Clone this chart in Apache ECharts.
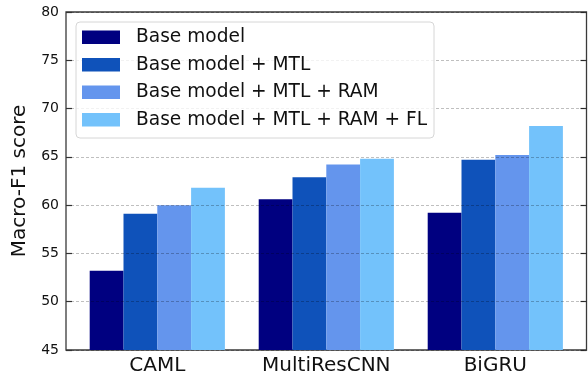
<!DOCTYPE html>
<html>
<head>
<meta charset="utf-8">
<script src="https://cdn.jsdelivr.net/npm/echarts@6/dist/echarts.min.js"></script>
<style>
  html, body { margin: 0; padding: 0; background: #fff; }
  #chart { width: 588px; height: 377px; }
</style>
</head>
<body>
<div id="chart"></div>
<script>
// Model families on the x axis
const categories = ['CAML', 'MultiResCNN', 'BiGRU'];

// Macro-F1 scores per configuration
const seriesNames = [
  'Base model',
  'Base model + MTL',
  'Base model + MTL + RAM',
  'Base model + MTL + RAM + FL'
];
const baseModel = [53.2, 60.6, 59.2];
const withMTL = [59.1, 62.9, 64.7];
const withRAM = [60.0, 64.2, 65.2];
const withFL = [61.8, 64.8, 68.2];

const yTicks = [45, 50, 55, 60, 65, 70, 75, 80];

const seriesValues = [baseModel, withMTL, withRAM, withFL];
const colors = ['#000080', '#0F52BA', '#6495ED', '#73C2FB'];

const FONT = 'DejaVu Sans';

const chart = echarts.init(document.getElementById('chart'), null, { renderer: 'canvas' });

const yRange = {
  type: 'value',
  min: yTicks[0],
  max: yTicks[yTicks.length - 1],
  interval: yTicks[1] - yTicks[0]
};
const tickStyle = { show: true, inside: true, length: 6, lineStyle: { color: '#333', width: 1.2 } };

chart.setOption({
  animation: false,
  textStyle: { fontFamily: FONT },
  grid: [
    // frame, y ticks and grid lines
    {
      left: 66, right: 1.5, top: 12, bottom: 27,
      show: true,
      borderColor: '#3a3a3a',
      borderWidth: 1.3,
      backgroundColor: 'transparent'
    },
    // bar area: the category bands sit inside the frame with small side margins
    { left: 72.8, right: 8.2, top: 12, bottom: 27 }
  ],
  legend: {
    data: seriesNames,
    orient: 'vertical',
    left: 76,
    top: 22,
    padding: [5, 7, 8, 6],
    itemWidth: 38,
    itemHeight: 13.5,
    itemGap: 7,
    icon: 'rect',
    selectedMode: false,
    backgroundColor: 'rgba(255,255,255,0.8)',
    borderColor: '#d6d6d6',
    borderWidth: 1,
    borderRadius: 4,
    z: 20,
    textStyle: {
      fontFamily: FONT,
      fontSize: 18.6,
      color: '#111',
      lineHeight: 20.5,
      padding: [0, 0, 0, 11]
    }
  },
  xAxis: [
    {
      gridIndex: 0,
      type: 'value',
      min: 0, max: 1,
      show: false
    },
    {
      gridIndex: 1,
      type: 'category',
      data: categories,
      axisLine: { show: false },
      axisTick: { show: false },
      splitLine: { show: false },
      axisLabel: { fontFamily: FONT, fontSize: 20, color: '#111', margin: 6 }
    }
  ],
  yAxis: [
    Object.assign({}, yRange, {
      gridIndex: 0,
      position: 'left',
      z: 10,
      axisLine: { show: false },
      axisTick: tickStyle,
      name: 'Macro-F1 score',
      nameLocation: 'middle',
      nameGap: 34,
      nameTextStyle: { fontFamily: FONT, fontSize: 20, color: '#111' },
      axisLabel: { fontFamily: FONT, fontSize: 14, color: '#111', margin: 7 },
      splitLine: {
        show: true,
        lineStyle: { color: 'rgba(0,0,0,0.25)', type: [3, 2], width: 1 }
      }
    }),
    Object.assign({}, yRange, {
      gridIndex: 0,
      position: 'right',
      axisLine: { show: false },
      axisTick: tickStyle,
      axisLabel: { show: false },
      splitLine: { show: false }
    }),
    Object.assign({}, yRange, {
      gridIndex: 1,
      show: false
    })
  ],
  series: seriesNames.map((name, i) => ({
    name: name,
    type: 'bar',
    xAxisIndex: 1,
    yAxisIndex: 2,
    barGap: '0%',
    barCategoryGap: '20%',
    itemStyle: { color: colors[i] },
    data: seriesValues[i]
  }))
});
</script>
</body>
</html>
